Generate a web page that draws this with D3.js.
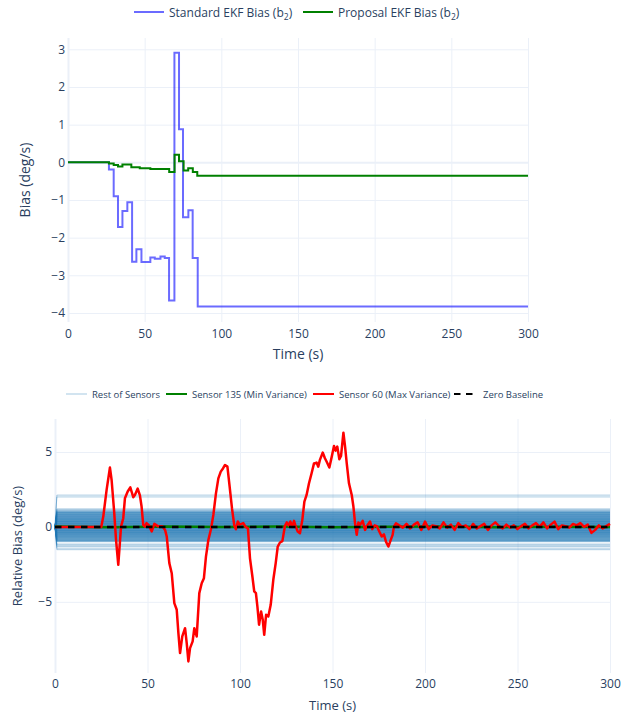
<!DOCTYPE html>
<html><head><meta charset="utf-8">
<script src="https://cdn.jsdelivr.net/npm/d3@7"></script>
<style>
body{margin:0;background:#fff;}
svg{display:block;font-family:"Open Sans",sans-serif;}
</style></head>
<body><svg id="c" width="639" height="719"></svg>
<script>
// ---------- Top chart data (step series, hv) ----------
const topTicksX = [0, 50, 100, 150, 200, 250, 300];
const topTicksY = [3, 2, 1, 0, -1, -2, -3, -4];
const stdTime = [0, 26.7, 29.8, 32.6, 35.5, 38.7, 41.8, 44.6, 47.9, 53.7, 56.6, 60.3, 63.1, 65.9, 69.4, 72.4, 75.0, 78.5, 81.3, 84.6, 300];
const stdBias = [0, -0.19, -0.90, -1.72, -1.29, -1.06, -2.64, -2.31, -2.65, -2.53, -2.56, -2.50, -2.54, -3.67, 2.91, 0.88, -1.46, -1.27, -2.54, -3.83, -3.83];
const propTime = [0, 26.7, 29.8, 32.6, 35.5, 41.3, 46.8, 53.7, 66.0, 69.5, 72.4, 75.4, 78.4, 81.4, 84.3, 300];
const propBias = [0, -0.03, -0.07, -0.11, -0.06, -0.13, -0.16, -0.18, -0.26, 0.20, 0.03, -0.22, -0.16, -0.26, -0.36, -0.36];

// ---------- Bottom chart data ----------
const botTicksX = [0, 50, 100, 150, 200, 250, 300];
const botTicksY = [5, 0, -5];
const sensorTime = [0, 1, 300];
const sensorOffsets = [2.12, 2.0, 1.2, 1.14, 1.08, -1.22, -1.3, -1.42, -1.52, -1.15,
  1.05, 1.02, 0.98, 0.95, 0.93, 0.9, 0.88, 0.85, 0.82, 0.8, 0.78, 0.75, 0.73, 0.7, 0.68, 0.66, 0.63, 0.61, 0.58, 0.56,
  0.54, 0.52, 0.5, 0.47, 0.45, 0.43, 0.41, 0.39, 0.37, 0.35, 0.33, 0.31, 0.29, 0.27, 0.25, 0.23, 0.21, 0.19, 0.17, 0.15,
  0.13, 0.11, 0.09, 0.07, 0.05, 0.03, 0.01, -0.01, -0.03, -0.05, -0.07, -0.09, -0.11, -0.13, -0.15, -0.17, -0.19, -0.21,
  -0.23, -0.25, -0.27, -0.29, -0.31, -0.33, -0.35, -0.37, -0.39, -0.41, -0.43, -0.45, -0.47, -0.5, -0.52, -0.54, -0.56,
  -0.59, -0.61, -0.64, -0.66, -0.69, -0.72, -0.75, -0.78, -0.81, -0.84, -0.87, -0.9, -0.93, -0.96, -0.99,
  0.96, 0.84, 0.72, 0.6, 0.48, 0.36, 0.24, 0.12, 0.0, -0.12, -0.24, -0.36, -0.48, -0.6, -0.7, -0.8, -0.9];
const s135Time = [0, 1, 30, 60, 90, 120, 150, 180, 210, 240, 270, 300];
const s135Bias = [0, 0.02, -0.02, 0.03, -0.01, 0.02, -0.03, 0.01, 0.02, -0.02, 0.01, 0.0];
const s60Time = [0, 25, 26.1, 27.9, 29.7, 30.6, 31.9, 33, 34.2, 35.7, 36.9, 37.8, 39.3, 40.7, 42.3, 43.2, 44.7, 45.9, 46.8, 47.7,
  48.6, 49.5, 50.8, 52.3, 53.7, 55.5, 58, 59.5, 60.4, 61.8, 63.1, 64.5, 65.8, 66.7, 67.6, 68.8, 70.3, 71.2, 72.1, 73,
  74.4, 75.3, 76.6, 78, 79.3, 80.5, 81.6, 82.9, 84.3, 85.6, 87, 88.3, 89.6, 90.8, 91.9, 93.2, 94.4, 95.7, 96.9, 97.8,
  98.8, 99.8, 100.8, 101.8, 103, 104.3, 105.4, 106.7, 107.7, 108.6, 109.4, 110.3, 111.4, 112.3, 113.1, 114.1, 115.3, 116.6, 118, 119.3,
  120.4, 121.6, 122.9, 124.3, 125.3, 126.3, 127.2, 128.2, 129.2, 130.1, 131.2, 132.4, 133.7, 134.8, 136, 137.3, 138.7, 140, 141.4, 142.3,
  143.2, 144.7, 145.9, 146.8, 148.3, 149.6, 150.8, 151.7, 152.6, 153.7, 154.6, 155.9, 156.8, 157.7, 158.9, 160.4, 161.3, 162.2, 163.1, 164,
  165, 166.3, 167.6, 168.8, 170.3, 171.5, 172.8, 174, 175.3, 176.6, 177.8, 178.9, 180.2, 181.5, 182.5, 183.2, 184.3,
  186, 188, 190, 192, 194, 196, 198, 200, 202, 204, 206, 208, 210, 212, 214, 216, 218, 220, 222, 224, 226, 228, 230,
  232, 234, 236, 238, 240, 242, 244, 246, 248, 250, 252, 254, 256, 258, 260, 262, 264, 266, 268, 270, 272, 274, 276,
  278, 280, 282, 284, 286, 288, 290, 292, 294, 296, 298, 300];
const s60Bias = [0, 0, 0.69, 2.47, 3.96, 3.13, 1.13, -0.87, -2.53, 0.02, 0.58, 1.91, 2.36, 2.64, 1.98, 2.13, 2.56, 2.1, 1.36, 0.13,
  0.02, 0.25, 0.1, -0.3, 0.2, 0.05, 0.05, -0.2, -0.64, -2.42, -3.09, -5.09, -5.53, -7.09, -8.42, -7.31, -6.76, -7.76, -8.98, -8.09,
  -7.64, -6.76, -7.31, -4.42, -3.76, -3.42, -1.98, -0.87, -0.16, 0.8, 2.24, 3.24, 3.69, 3.9, 4.13, 4.02, 2.69, 1.2, 0.1, -0.16,
  0.36, 0.15, 0.2, 0.25, 0.0, -0.1, -2.1, -3.31, -4.31, -4.42, -5.31, -6.53, -5.64, -6.2, -7.2, -5.87, -5.98, -5.2, -3.53, -2.42,
  -1.31, -1.04, -0.95, 0.07, 0.3, 0.1, 0.36, 0.0, 0.4, 0.02, -0.31, -0.42, 0.47, 1.69, 2.13, 2.91, 3.58, 4.24, 4.29, 4.02,
  4.47, 4.96, 4.58, 4.36, 3.96, 4.69, 5.4, 5.09, 5.36, 4.51, 4.73, 6.29, 5.36, 4.24, 2.91, 2.13, 1.36, 0.24, -0.53, 0.29,
  0.15, 0.4, -0.2, 0.1, 0.36, -0.15, 0.1, 0.05, -0.31, -0.64, -0.5, -0.98, -1.31, -0.87, -0.53, 0.02, 0.24,
  0.1, -0.05, 0.2, -0.1, 0.15, 0.3, -0.2, 0.35, -0.15, 0.1, 0.05, -0.1, 0.3, -0.05, 0.15, -0.2, 0.25, 0.0, 0.1, -0.15, 0.2, -0.1, 0.05,
  0.2, -0.2, 0.1, 0.3, 0.05, -0.1, 0.15, -0.05, 0.1, -0.15, 0.05, 0.2, -0.1, 0.1, 0.25, 0.0, 0.3, -0.1, 0.15, 0.35, -0.15, 0.1, 0.05,
  -0.05, 0.2, 0.1, 0.25, 0.0, 0.15, -0.4, -0.2, 0.1, -0.1, 0.05, 0.2];
const baselineTime = [0, 300];
const baselineBias = [0, 0];

// ---------- drawing ----------
const svg = d3.select("#c");
const txt = "#2a3f5f", grid = "#EBF0F8";
const zip = (t, v) => t.map((d, i) => [d, v[i]]);

// ===== Top chart =====
const T = {l: 68, r: 528, t: 38, b: 322};
const xT = d3.scaleLinear().domain([0, 300]).range([T.l, T.r]);
const yT = d3.scaleLinear().domain([-4.24, 3.3]).range([T.b, T.t]);
const gT = svg.append("g");
gT.append("g").attr("transform", `translate(0,${T.b})`)
  .call(d3.axisBottom(xT).tickValues(topTicksX).tickSize(-(T.b - T.t)).tickFormat(d3.format("d")))
  .call(g => { g.select(".domain").remove();
    g.selectAll("line").attr("stroke", grid).attr("stroke-width", d => d === 0 ? 2 : 1);
    g.selectAll("text").attr("fill", txt).attr("font-size", 12).attr("dy", "0").attr("y", 15.5).attr("font-family", "Open Sans"); });
gT.append("g").attr("transform", `translate(${T.l},0)`)
  .call(d3.axisLeft(yT).tickValues(topTicksY).tickSize(-(T.r - T.l)).tickFormat(d => d3.format("d")(d).replace("-", "\u2212")))
  .call(g => { g.select(".domain").remove();
    g.selectAll("line").attr("stroke", grid).attr("stroke-width", d => d === 0 ? 2 : 1);
    g.selectAll("text").attr("fill", txt).attr("font-size", 12).attr("x", -3).attr("font-family", "Open Sans"); });
const lineT = d3.line().x(d => xT(d[0])).y(d => yT(d[1])).curve(d3.curveStepAfter);
gT.append("path").datum(zip(stdTime, stdBias)).attr("d", lineT)
  .attr("fill", "none").attr("stroke", "#0000ff").attr("stroke-opacity", 0.58).attr("stroke-width", 2);
gT.append("path").datum(zip(propTime, propBias)).attr("d", lineT)
  .attr("fill", "none").attr("stroke", "#008000").attr("stroke-width", 2);
gT.append("text").attr("x", (T.l + T.r) / 2).attr("y", 359).attr("text-anchor", "middle")
  .attr("fill", txt).attr("font-size", 14).text("Time (s)");
gT.append("text").attr("transform", `translate(30,${(T.t + T.b) / 2}) rotate(-90)`).attr("text-anchor", "middle")
  .attr("fill", txt).attr("font-size", 14).text("Bias (deg/s)");
// top legend
const legT = [
  {x0: 134, x1: 164, tx: 169, name: "Standard EKF Bias (b", color: "#0000ff", op: 0.58},
  {x0: 303, x1: 333, tx: 338, name: "Proposal EKF Bias (b", color: "#008000", op: 1}];
legT.forEach(d => {
  gT.append("line").attr("x1", d.x0).attr("x2", d.x1).attr("y1", 12).attr("y2", 12)
    .attr("stroke", d.color).attr("stroke-opacity", d.op).attr("stroke-width", 2);
  const t = gT.append("text").attr("x", d.tx).attr("y", 16.5).attr("fill", txt).attr("font-size", 12);
  t.append("tspan").text(d.name);
  t.append("tspan").attr("font-size", 8.5).attr("dy", 3).text("2");
  t.append("tspan").attr("dy", -3).text(")");
});

// ===== Bottom chart =====
const B = {l: 55, r: 610, t: 419, b: 673};
const xB = d3.scaleLinear().domain([0, 300]).range([B.l, B.r]);
const yB = d3.scaleLinear().domain([-9.75, 7.2]).range([B.b, B.t]);
const gB = svg.append("g");
gB.append("g").attr("transform", `translate(0,${B.b})`)
  .call(d3.axisBottom(xB).tickValues(botTicksX).tickSize(-(B.b - B.t)).tickFormat(d3.format("d")))
  .call(g => { g.select(".domain").remove();
    g.selectAll("line").attr("stroke", grid).attr("stroke-width", d => d === 0 ? 2 : 1);
    g.selectAll("text").attr("fill", txt).attr("font-size", 12).attr("dy", "0").attr("y", 14.5).attr("font-family", "Open Sans"); });
gB.append("g").attr("transform", `translate(${B.l},0)`)
  .call(d3.axisLeft(yB).tickValues(botTicksY).tickSize(-(B.r - B.l)).tickFormat(d => d3.format("d")(d).replace("-", "\u2212")))
  .call(g => { g.select(".domain").remove();
    g.selectAll("line").attr("stroke", grid).attr("stroke-width", d => d === 0 ? 2 : 1);
    g.selectAll("text").attr("fill", txt).attr("font-size", 12).attr("x", -3).attr("font-family", "Open Sans"); });
const lineB = d3.line().x(d => xB(d[0])).y(d => yB(d[1]));
const sensG = gB.append("g");
sensorOffsets.forEach(o => {
  sensG.append("path").datum(zip(sensorTime, [0, o, o])).attr("d", lineB)
    .attr("fill", "none").attr("stroke", "rgb(31,119,180)").attr("stroke-opacity", 0.42).attr("stroke-width", 0.9);
});
gB.append("path").datum(zip(s135Time, s135Bias)).attr("d", lineB)
  .attr("fill", "none").attr("stroke", "#008000").attr("stroke-width", 2.5);
gB.append("path").datum(zip(s60Time, s60Bias)).attr("d", lineB)
  .attr("fill", "none").attr("stroke", "#ff0000").attr("stroke-width", 2.5).attr("stroke-linejoin", "round");
gB.append("path").datum(zip(baselineTime, baselineBias)).attr("d", lineB)
  .attr("fill", "none").attr("stroke", "#000").attr("stroke-width", 2.5).attr("stroke-dasharray", "6.5,6.5");
gB.append("text").attr("x", (B.l + B.r) / 2).attr("y", 710).attr("text-anchor", "middle")
  .attr("fill", txt).attr("font-size", 13).text("Time (s)");
gB.append("text").attr("transform", `translate(22,${(B.t + B.b) / 2}) rotate(-90)`).attr("text-anchor", "middle")
  .attr("fill", txt).attr("font-size", 13).text("Relative Bias (deg/s)");
// bottom legend
const legB = [
  {x0: 66, x1: 87, tx: 92, name: "Rest of Sensors", color: "rgba(31,119,180,0.4)", w: 1, dash: null},
  {x0: 166, x1: 187, tx: 192, name: "Sensor 135 (Min Variance)", color: "#008000", w: 2, dash: null},
  {x0: 313, x1: 334, tx: 339, name: "Sensor 60 (Max Variance)", color: "#ff0000", w: 2, dash: null},
  {x0: 454, x1: 474, tx: 483, name: "Zero Baseline", color: "#000", w: 2, dash: "6.5,5.5"}];
legB.forEach(d => {
  gB.append("line").attr("x1", d.x0).attr("x2", d.x1).attr("y1", 394).attr("y2", 394)
    .attr("stroke", d.color).attr("stroke-width", d.w).attr("stroke-dasharray", d.dash);
  gB.append("text").attr("x", d.tx).attr("y", 397.5).attr("fill", txt).attr("font-size", 9.5).text(d.name);
});
</script></body></html>
